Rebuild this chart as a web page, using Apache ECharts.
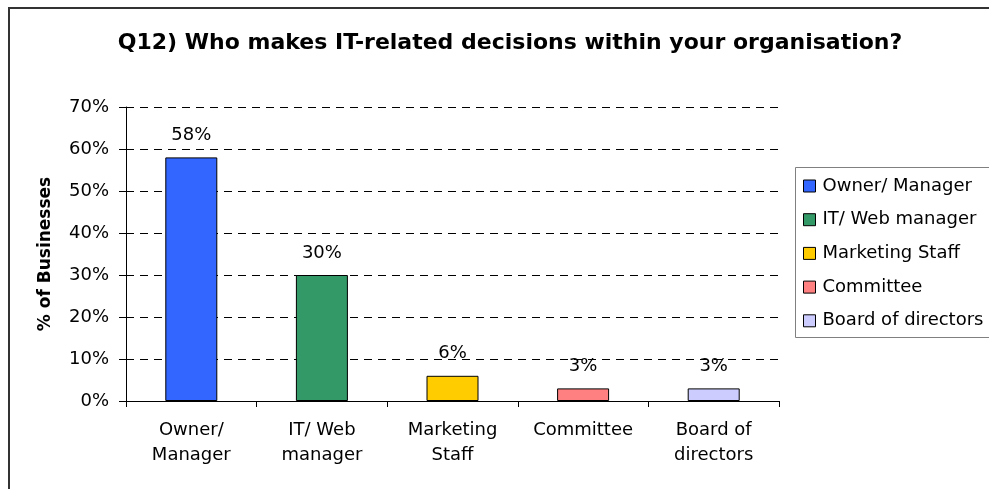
<!DOCTYPE html>
<html>
<head>
<meta charset="utf-8">
<script src="https://cdn.jsdelivr.net/npm/echarts@6/dist/echarts.min.js"></script>
<style>
  html, body { margin: 0; padding: 0; background: #fff; }
  #chart { width: 989px; height: 489px; }
</style>
</head>
<body>
<div id="chart"></div>
<script>
// Survey answers: share of businesses by who makes IT decisions
const categories = ['Owner/\nManager', 'IT/ Web\nmanager', 'Marketing\nStaff', 'Committee', 'Board of\ndirectors'];
const seriesNames = ['Owner/ Manager', 'IT/ Web manager', 'Marketing Staff', 'Committee', 'Board of directors'];
const values = [58, 30, 6, 3, 3];
const colors = ['#3366FF', '#339966', '#FFCC00', '#FF8080', '#CCCCFF'];
const yTicks = { min: 0, max: 70, interval: 10 };

const FONT = '"DejaVu Sans", "Liberation Sans", Arial, sans-serif';

// One series per category so each gets its own legend entry;
// stacking keeps every bar centred on its category.
const series = seriesNames.map((name, i) => ({
  name: name,
  type: 'bar',
  stack: 'all',
  barWidth: 52,
  data: values.map((v, j) => (j === i ? v : '-')),
  itemStyle: { color: colors[i], borderColor: '#000', borderWidth: 1 },
  label: {
    show: true,
    position: 'top',
    distance: 13,
    formatter: '{c}%',
    color: '#000',
    fontFamily: FONT,
    fontSize: 18
  }
}));

const chart = echarts.init(document.getElementById('chart'));
chart.setOption({
  animation: false,
  backgroundColor: '#fff',
  textStyle: { fontFamily: FONT },
  grid: { left: 126, right: 210, top: 107, bottom: 88, containLabel: false },
  legend: {
    orient: 'vertical',
    left: 798,
    top: 172,
    itemWidth: 12,
    itemHeight: 12,
    itemGap: 15.7,
    icon: 'rect',
    data: seriesNames,
    itemStyle: { borderColor: '#000', borderWidth: 1 },
    textStyle: { color: '#000', fontSize: 18, fontFamily: FONT, lineHeight: 18, padding: [0, 0, 0, 2] },
    selectedMode: false
  },
  graphic: [
    {
      type: 'rect',
      shape: { x: 9, y: 8, width: 1100, height: 600 },
      style: { fill: 'none', stroke: '#333', lineWidth: 2 },
      silent: true
    },
    {
      type: 'rect',
      shape: { x: 795.5, y: 167.5, width: 300, height: 170 },
      style: { fill: 'none', stroke: '#808080', lineWidth: 1 },
      silent: true,
      z: -1
    },
    {
      type: 'text',
      x: 510,
      y: 43,
      style: {
        text: 'Q12) Who makes IT-related decisions within your organisation?',
        font: 'bold 22px ' + FONT,
        fill: '#000',
        align: 'center',
        verticalAlign: 'middle'
      }
    }
  ],
  xAxis: {
    type: 'category',
    data: categories,
    axisLine: { lineStyle: { color: '#000', width: 1 } },
    axisTick: { show: true, length: 6, lineStyle: { color: '#000' } },
    axisLabel: { color: '#000', fontSize: 18, fontFamily: FONT, lineHeight: 25, margin: 17, interval: 0 },
    splitLine: { show: false }
  },
  yAxis: {
    type: 'value',
    min: yTicks.min,
    max: yTicks.max,
    interval: yTicks.interval,
    name: '% of Businesses',
    nameLocation: 'middle',
    nameGap: 72,
    nameTextStyle: { color: '#000', fontSize: 17, fontWeight: 'bold', fontFamily: FONT },
    axisLine: { show: true, lineStyle: { color: '#000', width: 1 } },
    axisTick: { show: true, length: 7, lineStyle: { color: '#000' } },
    axisLabel: { color: '#000', fontSize: 18, fontFamily: FONT, margin: 17, formatter: '{value}%' },
    splitLine: { show: true, lineStyle: { color: '#000', type: [8, 6], width: 1 } }
  },
  series: series
});
</script>
</body>
</html>
